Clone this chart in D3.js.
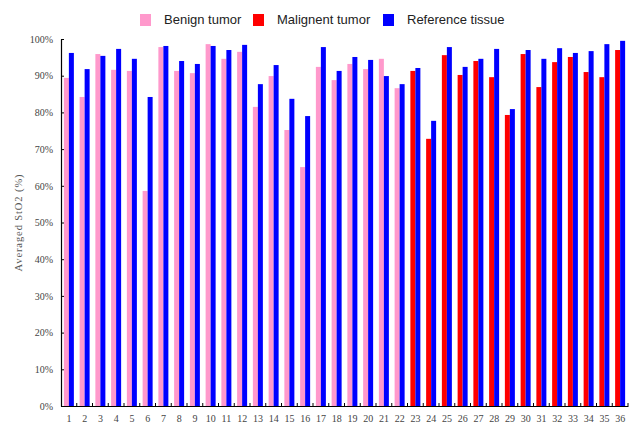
<!DOCTYPE html>
<html><head><meta charset="utf-8">
<script src="https://cdn.jsdelivr.net/npm/d3@7"></script>
<style>body{margin:0;background:#fff;}svg{display:block;}</style>
</head><body>
<svg id="c" width="630" height="423"></svg>
<script>
const groups = d3.range(1, 37).map(String);
const tumorType = groups.map((g, i) => i < 22 ? "Benign tumor" : "Malignent tumor");
const tumorValues = [89.4,84.2,95.9,91.6,91.3,58.6,97.8,91.3,90.7,98.6,94.6,96.5,81.5,89.9,75.2,65.1,92.4,88.8,93.2,91.8,94.6,86.6,91.3,72.8,95.6,90.2,94.0,89.6,79.3,95.9,86.9,93.7,95.1,91.0,89.6,97.0];
const referenceValues = [96.2,91.8,95.4,97.3,94.6,84.2,98.1,94.0,93.2,98.1,97.0,98.4,87.7,92.9,83.7,79.0,97.8,91.3,95.1,94.3,89.9,87.7,92.1,77.7,97.8,92.4,94.6,97.3,80.9,97.0,94.6,97.5,96.2,96.7,98.6,99.5];
const yTicks = [0,10,20,30,40,50,60,70,80,90,100];
const legendItems = ["Benign tumor","Malignent tumor","Reference tissue"];
const colors = {"Benign tumor":"#ff99cc","Malignent tumor":"#ff0000","Reference tissue":"#0000ff"};

(function(){
const svg = d3.select("#c");
const mL = 61, mR = 628, mT = 39, mB = 406;
const x = d3.scaleBand().domain(groups).range([mL, mR]).padding(0);
const x1 = d3.scaleBand().domain(["t","r"]).range([0, x.bandwidth()]).paddingInner(0).paddingOuter(0.575);
const y = d3.scaleLinear().domain([0,100]).range([mB, mT]);

// bars
const g = svg.append("g");
groups.forEach((grp, i) => {
  g.append("rect").attr("x", x(grp) + x1("t")).attr("width", x1.bandwidth())
    .attr("y", y(tumorValues[i])).attr("height", y(0) - y(tumorValues[i]))
    .attr("fill", colors[tumorType[i]]);
  g.append("rect").attr("x", x(grp) + x1("r")).attr("width", x1.bandwidth())
    .attr("y", y(referenceValues[i])).attr("height", y(0) - y(referenceValues[i]))
    .attr("fill", colors["Reference tissue"]);
});

// y axis (ticks inward)
const ya = svg.append("g").attr("transform", `translate(${mL},0)`)
  .call(d3.axisLeft(y).tickValues(yTicks).tickFormat(d => d + "%").tickSize(-3).tickSizeOuter(0));
ya.select(".domain").attr("stroke", "#000").attr("stroke-width", 1.2);
ya.selectAll(".tick line").attr("stroke", "#000");
ya.selectAll("text").attr("font-family", "'Liberation Serif', serif").attr("font-size", 10).attr("fill", "#444").attr("x", -8);

// x axis
const xa = svg.append("g").attr("transform", `translate(0,${mB})`)
  .call(d3.axisBottom(x).tickSize(0).tickSizeOuter(0));
xa.select(".domain").attr("stroke", "#000").attr("stroke-width", 1.2);
xa.selectAll("text").attr("font-family", "'Liberation Serif', serif").attr("font-size", 10).attr("fill", "#444").attr("dy", "0.71em").attr("y", 9);
const bounds = groups.map(grp => x(grp) + x.bandwidth());
svg.append("g").selectAll("line").data(bounds).join("line")
  .attr("x1", d => d).attr("x2", d => d).attr("y1", mB).attr("y2", mB - 3)
  .attr("stroke", "#000");

// y label
svg.append("text").attr("transform", `translate(22,${(mT+mB)/2}) rotate(-90)`)
  .attr("text-anchor", "middle").attr("font-family", "'Liberation Serif', serif")
  .attr("font-size", 10.5).attr("fill", "#555").attr("letter-spacing", 0.9).text("Averaged StO2 (%)");

// legend
const lx = [140, 253, 383];
const lg = svg.append("g");
legendItems.forEach((name, i) => {
  lg.append("rect").attr("x", lx[i]).attr("y", 14).attr("width", 11).attr("height", 12).attr("fill", colors[name]);
  lg.append("text").attr("x", lx[i] + 24).attr("y", 23.5).attr("font-family", "'Liberation Sans', Arial, sans-serif")
    .attr("font-size", 13).attr("fill", "#222").text(name);
});
})();
</script>
</body></html>
